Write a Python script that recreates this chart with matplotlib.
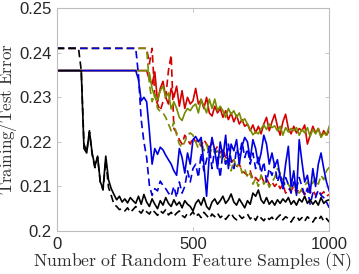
import matplotlib
matplotlib.use("Agg")
import matplotlib.pyplot as plt
import numpy as np

plt.rcParams["mathtext.fontset"] = "cm"

# Sample sizes (N), step 10
N = list(range(0, 1001, 10))

black_solid = [0.236]*10 + [
    0.2185, 0.2175, 0.2225, 0.2175, 0.2145, 0.2168, 0.2110, 0.2095, 0.2168, 0.2115,
    0.2095, 0.2082, 0.2070, 0.2078, 0.2065, 0.2072, 0.2063, 0.2075, 0.2068, 0.2062,
    0.2078, 0.2060, 0.2082, 0.2065, 0.2055, 0.2072, 0.2060, 0.2050, 0.2068, 0.2058,
    0.2075, 0.2062, 0.2055, 0.2070, 0.2058, 0.2065, 0.2052, 0.2068, 0.2060, 0.2055,
    0.2045, 0.2062, 0.2070, 0.2058, 0.2075, 0.2055, 0.2048, 0.2065, 0.2072, 0.2060,
    0.2068, 0.2078, 0.2062, 0.2070, 0.2083, 0.2065, 0.2058, 0.2072, 0.2062, 0.2052,
    0.2068, 0.2060, 0.2085, 0.2078, 0.2092, 0.2070, 0.2062, 0.2075, 0.2060, 0.2068,
    0.2058, 0.2070, 0.2062, 0.2072, 0.2065, 0.2075, 0.2060, 0.2068, 0.2058, 0.2072,
    0.2065, 0.2078, 0.2062, 0.2070, 0.2060, 0.2068, 0.2058, 0.2075, 0.2062, 0.2068,
    0.2070]

black_dashed = [0.241]*9 + [
    0.2360,
    0.2195, 0.2178, 0.2222, 0.2172, 0.2142, 0.2165, 0.2108, 0.2092, 0.2160, 0.2098,
    0.2080, 0.2060, 0.2055, 0.2048, 0.2050, 0.2045, 0.2052, 0.2042, 0.2048, 0.2055,
    0.2046, 0.2040, 0.2050, 0.2043, 0.2038, 0.2048, 0.2042, 0.2035, 0.2045, 0.2040,
    0.2048, 0.2036, 0.2042, 0.2033, 0.2040, 0.2045, 0.2035, 0.2030, 0.2040, 0.2036,
    0.2043, 0.2032, 0.2038, 0.2030, 0.2042, 0.2035, 0.2028, 0.2038, 0.2032, 0.2040,
    0.2030, 0.2035, 0.2026, 0.2034, 0.2040, 0.2030, 0.2025, 0.2035, 0.2028, 0.2033,
    0.2038, 0.2027, 0.2033, 0.2024, 0.2036, 0.2029, 0.2023, 0.2032, 0.2026, 0.2031,
    0.2022, 0.2030, 0.2036, 0.2025, 0.2032, 0.2028, 0.2020, 0.2030, 0.2034, 0.2024,
    0.2030, 0.2022, 0.2032, 0.2026, 0.2020, 0.2030, 0.2024, 0.2033, 0.2022, 0.2028,
    0.2020]

blue_solid = [0.236]*30 + [
    0.2340, 0.2292, 0.2300, 0.2290, 0.2225, 0.2150, 0.2185, 0.2172, 0.2188, 0.2182,
    0.2170, 0.2160, 0.2150, 0.2135, 0.2125, 0.2185, 0.2165, 0.2130, 0.2175, 0.2150,
    0.2205, 0.2212, 0.2200, 0.2210, 0.2150, 0.2078, 0.2170, 0.2210, 0.2180, 0.2140,
    0.2200, 0.2165, 0.2215, 0.2140, 0.2195, 0.2180, 0.2205, 0.2150, 0.2190, 0.2210,
    0.2200, 0.2160, 0.2205, 0.2185, 0.2150, 0.2175, 0.2215, 0.2195, 0.2150, 0.2175,
    0.2145, 0.2160, 0.2120, 0.2100, 0.2150, 0.2190, 0.2100, 0.2135, 0.2080, 0.2205,
    0.2155, 0.2110, 0.2125, 0.2085, 0.2140, 0.2100, 0.2150, 0.2175, 0.2140, 0.2110,
    0.2090]

blue_dashed = [0.241]*30 + [
    0.2350, 0.2250, 0.2200, 0.2165, 0.2103, 0.2080, 0.2095, 0.2090, 0.2112, 0.2102,
    0.2095, 0.2085, 0.2078, 0.2100, 0.2075, 0.2110, 0.2085, 0.2100, 0.2135, 0.2110,
    0.2140, 0.2150, 0.2120, 0.2175, 0.2135, 0.2160, 0.2190, 0.2140, 0.2185, 0.2165,
    0.2120, 0.2180, 0.2150, 0.2195, 0.2160, 0.2140, 0.2185, 0.2170, 0.2200, 0.2165,
    0.2185, 0.2150, 0.2175, 0.2140, 0.2165, 0.2130, 0.2155, 0.2110, 0.2140, 0.2125,
    0.2150, 0.2110, 0.2130, 0.2095, 0.2120, 0.2105, 0.2085, 0.2110, 0.2095, 0.2120,
    0.2100, 0.2080, 0.2095, 0.2060, 0.2085, 0.2075, 0.2092, 0.2080, 0.2075, 0.2065,
    0.2052]

red_solid = [0.236]*34 + [
    0.2340, 0.2330, 0.2357, 0.2290, 0.2320, 0.2336,
    0.2300, 0.2285, 0.2320, 0.2300, 0.2325, 0.2280, 0.2315, 0.2275, 0.2300, 0.2285,
    0.2292, 0.2320, 0.2285, 0.2295, 0.2275, 0.2300, 0.2265, 0.2258, 0.2280, 0.2265,
    0.2275, 0.2255, 0.2270, 0.2250, 0.2265, 0.2245, 0.2260, 0.2240, 0.2250, 0.2235,
    0.2240, 0.2225, 0.2238, 0.2220, 0.2235, 0.2218, 0.2240, 0.2255, 0.2225, 0.2245,
    0.2262, 0.2235, 0.2215, 0.2245, 0.2262, 0.2230, 0.2218, 0.2235, 0.2220, 0.2230,
    0.2225, 0.2238, 0.2195, 0.2215, 0.2235, 0.2220, 0.2230, 0.2212, 0.2225, 0.2215,
    0.2225]

red_dashed = [0.241]*34 + [
    0.2375, 0.2410, 0.2300, 0.2285, 0.2270, 0.2290,
    0.2300, 0.2360, 0.2395, 0.2230, 0.2220, 0.2205, 0.2195, 0.2215, 0.2205, 0.2195,
    0.2210, 0.2200, 0.2205, 0.2190, 0.2205, 0.2195, 0.2185, 0.2200, 0.2180, 0.2190,
    0.2175, 0.2185, 0.2165, 0.2160, 0.2155, 0.2160, 0.2145, 0.2150, 0.2135, 0.2130,
    0.2125, 0.2135, 0.2115, 0.2120, 0.2112, 0.2125, 0.2110, 0.2118, 0.2105, 0.2110,
    0.2100, 0.2108, 0.2095, 0.2105, 0.2085, 0.2095, 0.2090, 0.2100, 0.2085, 0.2095,
    0.2090, 0.2082, 0.2096, 0.2086, 0.2092, 0.2080, 0.2090, 0.2082, 0.2088, 0.2078,
    0.2082]

green_solid = [0.236]*34 + [
    0.2355, 0.2320, 0.2300, 0.2295, 0.2315, 0.2325,
    0.2300, 0.2310, 0.2274, 0.2290, 0.2275, 0.2255, 0.2248, 0.2265, 0.2275, 0.2270,
    0.2280, 0.2285, 0.2265, 0.2296, 0.2280, 0.2265, 0.2296, 0.2275, 0.2296, 0.2270,
    0.2280, 0.2270, 0.2255, 0.2275, 0.2262, 0.2270, 0.2255, 0.2265, 0.2245, 0.2252,
    0.2240, 0.2228, 0.2216, 0.2222, 0.2218, 0.2230, 0.2238, 0.2228, 0.2240, 0.2232,
    0.2236, 0.2225, 0.2235, 0.2215, 0.2232, 0.2222, 0.2230, 0.2225, 0.2232, 0.2215,
    0.2228, 0.2220, 0.2232, 0.2212, 0.2228, 0.2218, 0.2230, 0.2210, 0.2220, 0.2215,
    0.2235]

green_dashed = [0.241]*34 + [
    0.2330, 0.2290, 0.2308, 0.2275, 0.2268, 0.2265,
    0.2255, 0.2240, 0.2225, 0.2245, 0.2215, 0.2195, 0.2188, 0.2200, 0.2215, 0.2220,
    0.2215, 0.2200, 0.2185, 0.2205, 0.2180, 0.2195, 0.2170, 0.2185, 0.2175, 0.2180,
    0.2165, 0.2175, 0.2150, 0.2162, 0.2135, 0.2160, 0.2140, 0.2155, 0.2130, 0.2140,
    0.2120, 0.2130, 0.2105, 0.2118, 0.2100, 0.2125, 0.2105, 0.2115, 0.2098, 0.2110,
    0.2120, 0.2140, 0.2130, 0.2115, 0.2100, 0.2105, 0.2095, 0.2108, 0.2090, 0.2085,
    0.2095, 0.2102, 0.2110, 0.2100, 0.2108, 0.2118, 0.2105, 0.2125, 0.2115, 0.2135,
    0.2143]

x_ticks = [0, 500, 1000]
y_ticks = [0.2, 0.21, 0.22, 0.23, 0.24, 0.25]
y_tick_labels = ["0.2", "0.21", "0.22", "0.23", "0.24", "0.25"]

BLACK = "#000000"
BLUE = "#0000e0"
RED = "#d40000"
GREEN = "#778c00"

fig = plt.figure(figsize=(3.59, 2.74), dpi=100)
ax = fig.add_axes([0.158, 0.157, 0.759, 0.813])

lw = 1.2
dash = (0, (4.5, 2.5))
# drawing order: red, green, blue, black (black on top)
ax.plot(N, red_solid, color=RED, lw=lw)
ax.plot(N, red_dashed, color=RED, lw=lw, linestyle=dash)
ax.plot(N, green_solid, color=GREEN, lw=lw)
ax.plot(N, green_dashed, color=GREEN, lw=lw, linestyle=dash)
ax.plot(N, blue_solid, color=BLUE, lw=lw)
ax.plot(N, blue_dashed, color=BLUE, lw=lw, linestyle=dash)
ax.plot(N, black_solid, color=BLACK, lw=lw)
ax.plot(N, black_dashed, color=BLACK, lw=lw, linestyle=dash)

ax.set_xlim(0, 1000)
ax.set_ylim(0.2, 0.25)
ax.set_xticks(x_ticks)
ax.set_yticks(y_ticks)
ax.set_yticklabels(y_tick_labels)

for s in ax.spines.values():
    s.set_color("#bdbdbd")
    s.set_linewidth(0.8)
ax.tick_params(direction="in", length=3, width=0.6, color="#bdbdbd",
               top=True, right=True, labelcolor="#262626", labelsize=12)
ax.tick_params(axis="x", pad=4)
for lab in ax.get_xticklabels() + ax.get_yticklabels():
    lab.set_fontfamily("Liberation Sans")

ax.set_xlabel(r"$\mathrm{Number\ of\ Random\ Feature\ Samples\ (N)}$",
              fontsize=12.8, color="#303030", labelpad=-1)
ax.set_ylabel(r"$\mathrm{Training/Test\ Error}$",
              fontsize=12.2, color="#303030")
ax.yaxis.set_label_coords(-0.138, 0.5)

fig.savefig("out.png", dpi=100)
